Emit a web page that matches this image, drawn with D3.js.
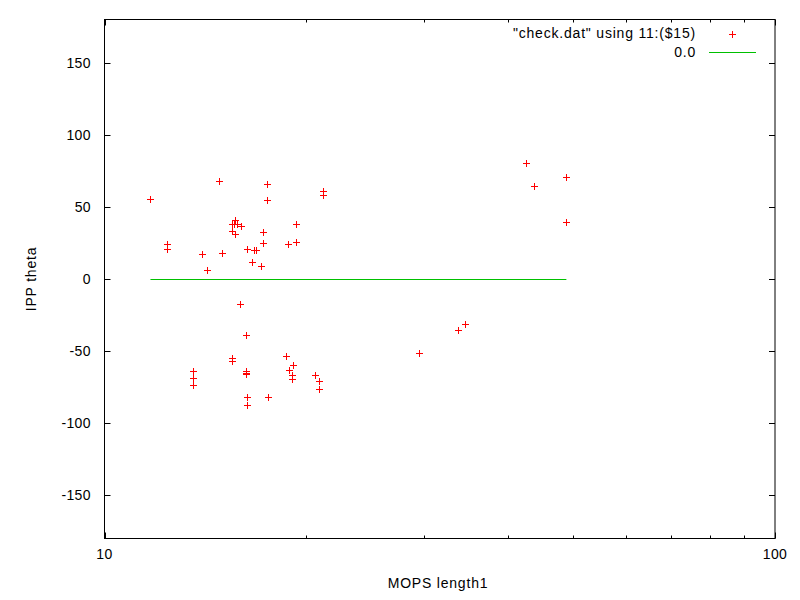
<!DOCTYPE html>
<html>
<head>
<meta charset="utf-8">
<script src="https://cdn.jsdelivr.net/npm/d3@7"></script>
<style>
  body { margin: 0; background: #fff; }
  text { font-family: "Liberation Sans", Arial, sans-serif; font-size: 14px; fill: #000; letter-spacing: 0.8px; }
  .tick-label { letter-spacing: 0.4px; }
</style>
</head>
<body>
<script>
// MOPS length1 (column 11) vs IPP theta (column 15)
const lengthVals = [
  11.71, 12.39, 12.39, 14.00, 14.21, 14.84, 14.96, 15.49, 15.49, 15.68,
  15.62, 15.74, 15.99, 15.68, 17.25, 17.25, 16.34, 16.70, 16.80, 16.57,
  17.09, 17.50, 17.50, 18.75, 19.30, 19.30, 21.21, 21.21, 42.59, 43.78,
  48.85, 48.85,
  15.90, 16.23, 15.52, 15.52, 13.53, 13.53, 13.53, 16.23, 16.23, 16.23,
  18.62, 19.10, 18.86, 19.03, 19.03, 20.61, 20.87, 20.87, 16.34, 16.34,
  17.56, 29.49, 33.72, 34.54
]
const thetaVals = [
  55.2, 24.3, 21.0, 17.1, 6.2, 67.7, 17.8, 37.9, 33.3, 40.9,
  38.1, 38.1, 36.7, 31.2, 32.4, 24.7, 21.0, 20.3, 20.3, 11.6,
  8.8, 65.6, 54.5, 24.3, 38.1, 25.9, 61.2, 58.0, 80.2, 64.5,
  70.5, 39.5,
  -17.5, -38.8, -55.0, -56.6, -64.0, -68.8, -73.3, -63.8, -65.8, -65.0,
  -53.6, -59.8, -63.1, -66.3, -69.1, -66.5, -70.5, -76.4, -81.8, -87.5,
  -82.0, -51.1, -35.6, -31.2
]
const xTicks = [10, 100]
const xMinorTicks = [20, 30, 40, 50, 60, 70, 80, 90]
const yTicks = [-150, -100, -50, 0, 50, 100, 150]
const legendLabels = ['"check.dat" using 11:($15)', '0.0']

const width = 800, height = 600
const margin = {top: 19.5, right: 25, bottom: 61.5, left: 104.5}
const iw = width - margin.left - margin.right
const ih = height - margin.top - margin.bottom

const svg = d3.select('body').append('svg')
  .attr('width', width)
  .attr('height', height)

const x = d3.scaleLog().domain([10, 100]).range([margin.left, margin.left + iw])
const y = d3.scaleLinear().domain([-180, 180]).range([margin.top + ih, margin.top])

const points = lengthVals.map((v, i) => ({x: v, y: thetaVals[i]}))

// ticks, inward and mirrored
const tickG = svg.append('g').attr('stroke', '#000').attr('stroke-width', 1)
xTicks.concat(xMinorTicks).forEach(t => {
  const len = xTicks.includes(t) ? 6 : 3
  const px = Math.round(x(t)) + 0.5
  tickG.append('line').attr('x1', px).attr('x2', px)
    .attr('y1', y(-180)).attr('y2', y(-180) - len)
  tickG.append('line').attr('x1', px).attr('x2', px)
    .attr('y1', y(180)).attr('y2', y(180) + len)
})
yTicks.forEach(t => {
  const py = Math.round(y(t)) + 0.5
  tickG.append('line').attr('x1', x(10)).attr('x2', x(10) + 6)
    .attr('y1', py).attr('y2', py)
  tickG.append('line').attr('x1', x(100)).attr('x2', x(100) - 6)
    .attr('y1', py).attr('y2', py)
})

// frame
svg.append('rect')
  .attr('x', margin.left).attr('y', margin.top)
  .attr('width', iw).attr('height', ih)
  .attr('fill', 'none').attr('stroke', '#000').attr('stroke-width', 1)

// tick labels
svg.append('g').selectAll('text').data(yTicks).enter().append('text')
  .attr('class', 'tick-label')
  .attr('x', 91).attr('y', d => y(d))
  .attr('dy', '0.35em')
  .attr('text-anchor', 'end')
  .text(d => d)

svg.append('g').selectAll('text').data(xTicks).enter().append('text')
  .attr('class', 'tick-label')
  .attr('x', d => x(d)).attr('y', 554)
  .attr('dy', '0.35em')
  .attr('text-anchor', 'middle')
  .text(d => d)

// axis titles
svg.append('text')
  .attr('x', 438).attr('y', 583)
  .attr('dy', '0.35em')
  .attr('text-anchor', 'middle')
  .text('MOPS length1')

svg.append('text')
  .attr('transform', `translate(31,${y(0)}) rotate(-90)`)
  .attr('dy', '0.35em')
  .attr('text-anchor', 'middle')
  .text('IPP theta')

// constant function 0.0 over the data range
const xr = d3.extent(lengthVals)
svg.append('line')
  .attr('x1', x(xr[0])).attr('x2', x(xr[1]))
  .attr('y1', Math.round(y(0)) + 0.5).attr('y2', Math.round(y(0)) + 0.5)
  .attr('stroke', '#00c000').attr('stroke-width', 1)

// points as "+"
const cross = (g, cx, cy) => {
  g.append('path')
    .attr('d', `M${cx - 3.5},${cy}H${cx + 3.5}M${cx},${cy - 3.5}V${cy + 3.5}`)
}
const ptG = svg.append('g').attr('stroke', '#ff0000').attr('stroke-width', 1).attr('fill', 'none')
points.forEach(d => cross(ptG, Math.round(x(d.x)) + 0.5, Math.round(y(d.y)) + 0.5))

// legend
svg.append('text').attr('x', 696).attr('y', 33).attr('dy', '0.35em')
  .attr('text-anchor', 'end').text(legendLabels[0])
cross(ptG, 732.5, 34.5)
svg.append('text').attr('x', 696).attr('y', 52).attr('dy', '0.35em')
  .attr('text-anchor', 'end').text(legendLabels[1])
svg.append('line').attr('x1', 709).attr('x2', 756)
  .attr('y1', 52.5).attr('y2', 52.5)
  .attr('stroke', '#00c000').attr('stroke-width', 1)
</script>
</body>
</html>
